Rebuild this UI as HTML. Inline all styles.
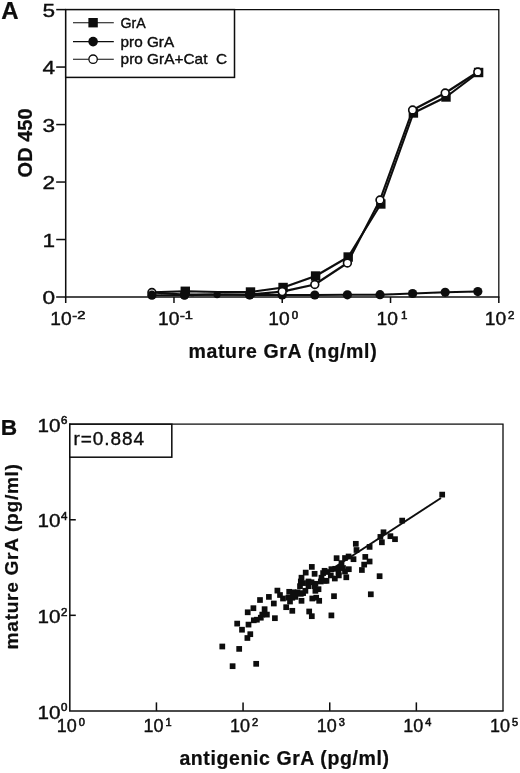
<!DOCTYPE html>
<html lang="en"><head><meta charset="utf-8"><title>Figure</title>
<style>
html,body{margin:0;padding:0;background:#fff;}
body{width:520px;height:773px;overflow:hidden;}
svg{display:block;font-family:"Liberation Sans", Arial, sans-serif;}
text{fill:#0a0a0a;stroke:#0a0a0a;stroke-width:0.35px;}
.b{font-weight:bold;stroke-width:0.2px;}
.s{stroke-width:0.55px;}
</style></head><body>
<svg width="520" height="773" viewBox="0 0 520 773">
<defs><filter id="soft" x="0" y="0" width="520" height="773" filterUnits="userSpaceOnUse"><feGaussianBlur stdDeviation="0.5"/></filter></defs>
<rect width="520" height="773" fill="#fff"/>
<g filter="url(#soft)">

<g fill="none" stroke="#0a0a0a" stroke-width="1.5">
<polyline points="65.7,9.6 498.8,9.6 498.8,297.0" stroke-width="1.25"/>
<polyline points="65.7,9.0 65.7,297.0 499.40000000000003,297.0"/>
<line x1="56.2" y1="297.00" x2="65.7" y2="297.00"/>
<line x1="56.2" y1="239.52" x2="65.7" y2="239.52"/>
<line x1="56.2" y1="182.04" x2="65.7" y2="182.04"/>
<line x1="56.2" y1="124.56" x2="65.7" y2="124.56"/>
<line x1="56.2" y1="67.08" x2="65.7" y2="67.08"/>
<line x1="56.2" y1="9.60" x2="65.7" y2="9.60"/>
<line x1="65.70" y1="297.0" x2="65.70" y2="303.0"/>
<line x1="173.98" y1="297.0" x2="173.98" y2="303.0"/>
<line x1="282.25" y1="297.0" x2="282.25" y2="303.0"/>
<line x1="390.53" y1="297.0" x2="390.53" y2="303.0"/>
<line x1="498.80" y1="297.0" x2="498.80" y2="303.0"/>
<rect x="65.7" y="9.6" width="168.8" height="67.80000000000001" fill="#fff"/>
</g>
<text x="42.6" y="304.30" font-size="19" textLength="12.6" lengthAdjust="spacingAndGlyphs">0</text>
<text x="42.6" y="246.82" font-size="19" textLength="12.6" lengthAdjust="spacingAndGlyphs">1</text>
<text x="42.6" y="189.34" font-size="19" textLength="12.6" lengthAdjust="spacingAndGlyphs">2</text>
<text x="42.6" y="131.86" font-size="19" textLength="12.6" lengthAdjust="spacingAndGlyphs">3</text>
<text x="42.6" y="74.38" font-size="19" textLength="12.6" lengthAdjust="spacingAndGlyphs">4</text>
<text x="42.6" y="16.90" font-size="19" textLength="12.6" lengthAdjust="spacingAndGlyphs">5</text>
<text x="50.30" y="325.30" font-size="18" textLength="21.4" lengthAdjust="spacingAndGlyphs">10</text>
<text class="s" x="72.30" y="318.70" font-size="11.5" textLength="13" lengthAdjust="spacingAndGlyphs">-2</text>
<text x="157.98" y="325.30" font-size="18" textLength="21.4" lengthAdjust="spacingAndGlyphs">10</text>
<text class="s" x="179.98" y="318.70" font-size="11.5" textLength="13" lengthAdjust="spacingAndGlyphs">-1</text>
<text x="268.25" y="325.30" font-size="18" textLength="21.4" lengthAdjust="spacingAndGlyphs">10</text>
<text class="s" x="291.65" y="318.70" font-size="11.5">0</text>
<text x="376.53" y="325.30" font-size="18" textLength="21.4" lengthAdjust="spacingAndGlyphs">10</text>
<text class="s" x="401.12" y="318.70" font-size="11.5">1</text>
<text x="484.80" y="325.30" font-size="18" textLength="21.4" lengthAdjust="spacingAndGlyphs">10</text>
<text class="s" x="508.00" y="318.70" font-size="11.5">2</text>
<text class="b" x="188.4" y="358" font-size="19.5" textLength="188.3" lengthAdjust="spacing">mature GrA (ng/ml)</text>
<text class="b" transform="translate(31.8,177.4) rotate(-90)" font-size="20" textLength="69" lengthAdjust="spacing">OD 450</text>
<text class="b" x="1.2" y="19.2" font-size="24">A</text>
<line x1="73" y1="22.7" x2="113.8" y2="22.7" stroke="#0a0a0a" stroke-width="1.1"/>
<rect x="88.4" y="18.0" width="9.4" height="9.4" fill="#0a0a0a"/>
<text x="120.6" y="28.2" font-size="14.2" textLength="25.2" lengthAdjust="spacingAndGlyphs">GrA</text>
<line x1="73" y1="41.6" x2="113.8" y2="41.6" stroke="#0a0a0a" stroke-width="1.1"/>
<circle cx="93.1" cy="41.6" r="4.8" fill="#0a0a0a"/>
<text x="120.6" y="47.4" font-size="14.2" textLength="53.5" lengthAdjust="spacingAndGlyphs">pro GrA</text>
<line x1="73" y1="59.2" x2="113.8" y2="59.2" stroke="#0a0a0a" stroke-width="1.1"/>
<circle cx="93.1" cy="59.2" r="4.2" fill="#fff" stroke="#0a0a0a" stroke-width="1.3"/>
<text x="120.6" y="64.2" font-size="14.2" textLength="106.5" lengthAdjust="spacingAndGlyphs">pro GrA+Cat  C</text>
<polyline points="151.9,295.2 184.5,295.2 217.1,294.6 249.7,295 282.2,295 314.8,295 347.4,294.8 380.0,294.7 412.6,293.5 445.2,292.3 477.8,291.6" fill="none" stroke="#0a0a0a" stroke-width="2.0" stroke-linejoin="round"/>
<polyline points="152.7,292.3 185.3,291.3 217.9,292 250.5,292 283.1,287.5 315.6,276 348.2,257 380.8,204 413.4,113 446.0,97 478.6,72.5" fill="none" stroke="#0a0a0a" stroke-width="2.1" stroke-linejoin="round"/>
<polyline points="151.9,292.5 184.5,294.6 217.1,294.6 249.7,294.6 282.2,291.6 314.8,284.5 347.4,263 380.0,200 412.6,110 445.2,93 477.8,72" fill="none" stroke="#0a0a0a" stroke-width="2.1" stroke-linejoin="round"/>
<rect x="180.6" y="286.6" width="9.4" height="9.4" fill="#0a0a0a"/>
<rect x="245.8" y="287.3" width="9.4" height="9.4" fill="#0a0a0a"/>
<rect x="278.4" y="282.8" width="9.4" height="9.4" fill="#0a0a0a"/>
<rect x="310.9" y="271.3" width="9.4" height="9.4" fill="#0a0a0a"/>
<rect x="343.5" y="252.3" width="9.4" height="9.4" fill="#0a0a0a"/>
<rect x="376.1" y="199.3" width="9.4" height="9.4" fill="#0a0a0a"/>
<rect x="408.7" y="108.3" width="9.4" height="9.4" fill="#0a0a0a"/>
<rect x="441.3" y="92.3" width="9.4" height="9.4" fill="#0a0a0a"/>
<rect x="473.9" y="67.8" width="9.4" height="9.4" fill="#0a0a0a"/>
<circle cx="282.2" cy="295" r="4.6" fill="#0a0a0a"/>
<circle cx="314.8" cy="295" r="4.6" fill="#0a0a0a"/>
<circle cx="347.4" cy="294.8" r="4.6" fill="#0a0a0a"/>
<circle cx="380.0" cy="294.7" r="4.6" fill="#0a0a0a"/>
<circle cx="412.6" cy="293.5" r="4.6" fill="#0a0a0a"/>
<circle cx="445.2" cy="292.3" r="4.6" fill="#0a0a0a"/>
<circle cx="477.8" cy="291.6" r="4.6" fill="#0a0a0a"/>
<circle cx="151.9" cy="292.5" r="3.9" fill="#fff" stroke="#0a0a0a" stroke-width="1.6"/>
<circle cx="184.5" cy="294.6" r="3.9" fill="#fff" stroke="#0a0a0a" stroke-width="1.6"/>
<circle cx="249.7" cy="294.6" r="3.9" fill="#fff" stroke="#0a0a0a" stroke-width="1.6"/>
<circle cx="282.2" cy="291.6" r="3.9" fill="#fff" stroke="#0a0a0a" stroke-width="1.6"/>
<circle cx="314.8" cy="284.5" r="3.9" fill="#fff" stroke="#0a0a0a" stroke-width="1.6"/>
<circle cx="347.4" cy="263" r="3.9" fill="#fff" stroke="#0a0a0a" stroke-width="1.6"/>
<circle cx="380.0" cy="200" r="3.9" fill="#fff" stroke="#0a0a0a" stroke-width="1.6"/>
<circle cx="412.6" cy="110" r="3.9" fill="#fff" stroke="#0a0a0a" stroke-width="1.6"/>
<circle cx="445.2" cy="93" r="3.9" fill="#fff" stroke="#0a0a0a" stroke-width="1.6"/>
<circle cx="477.8" cy="72" r="3.9" fill="#fff" stroke="#0a0a0a" stroke-width="1.6"/>
<circle cx="151.9" cy="295.2" r="4.6" fill="#0a0a0a"/>
<circle cx="184.5" cy="295.2" r="4.6" fill="#0a0a0a"/>
<circle cx="217.1" cy="294.6" r="3.6" fill="#0a0a0a"/>
<circle cx="249.7" cy="295" r="4.6" fill="#0a0a0a"/>
<g fill="none" stroke="#0a0a0a" stroke-width="1.5">
<polyline points="69.8,424.2 503.0,424.2 503.0,710.9" stroke-width="1.25"/>
<polyline points="69.8,423.59999999999997 69.8,710.9 503.6,710.9"/>
<line x1="156.44" y1="710.9" x2="156.44" y2="702.4"/>
<line x1="243.08" y1="710.9" x2="243.08" y2="702.4"/>
<line x1="329.72" y1="710.9" x2="329.72" y2="702.4"/>
<line x1="416.36" y1="710.9" x2="416.36" y2="702.4"/>
<line x1="69.8" y1="615.33" x2="75.8" y2="615.33"/>
<line x1="69.8" y1="519.77" x2="75.8" y2="519.77"/>
<rect x="69.8" y="424.2" width="102.00000000000001" height="33.0" fill="#fff"/>
</g>
<text x="56.80" y="732.40" font-size="17.6" textLength="20.0" lengthAdjust="spacingAndGlyphs">10</text>
<text class="s" x="78.80" y="725.60" font-size="11">0</text>
<text x="143.44" y="732.40" font-size="17.6" textLength="20.0" lengthAdjust="spacingAndGlyphs">10</text>
<text class="s" x="165.44" y="725.60" font-size="11">1</text>
<text x="230.08" y="732.40" font-size="17.6" textLength="20.0" lengthAdjust="spacingAndGlyphs">10</text>
<text class="s" x="252.08" y="725.60" font-size="11">2</text>
<text x="316.72" y="732.40" font-size="17.6" textLength="20.0" lengthAdjust="spacingAndGlyphs">10</text>
<text class="s" x="338.72" y="725.60" font-size="11">3</text>
<text x="403.36" y="732.40" font-size="17.6" textLength="20.0" lengthAdjust="spacingAndGlyphs">10</text>
<text class="s" x="425.36" y="725.60" font-size="11">4</text>
<text x="490.00" y="732.40" font-size="17.6" textLength="20.0" lengthAdjust="spacingAndGlyphs">10</text>
<text class="s" x="512.00" y="725.60" font-size="11">5</text>
<text x="37.60" y="718.50" font-size="19" textLength="23.0" lengthAdjust="spacingAndGlyphs">10</text>
<text class="s" x="61.00" y="711.10" font-size="11.5">0</text>
<text x="37.60" y="622.93" font-size="19" textLength="23.0" lengthAdjust="spacingAndGlyphs">10</text>
<text class="s" x="61.00" y="615.53" font-size="11.5">2</text>
<text x="37.60" y="527.37" font-size="19" textLength="23.0" lengthAdjust="spacingAndGlyphs">10</text>
<text class="s" x="61.00" y="519.97" font-size="11.5">4</text>
<text x="37.60" y="431.80" font-size="19" textLength="23.0" lengthAdjust="spacingAndGlyphs">10</text>
<text class="s" x="61.00" y="424.40" font-size="11.5">6</text>
<text x="73.4" y="444.6" font-size="19" textLength="70.6" lengthAdjust="spacing">r=0.884</text>
<text class="b" x="0.8" y="435" font-size="22" textLength="16.4" lengthAdjust="spacingAndGlyphs">B</text>
<text class="b" x="179.4" y="765.4" font-size="19.5" textLength="209.5" lengthAdjust="spacing">antigenic GrA (pg/ml)</text>
<text class="b" transform="translate(18.4,649.4) rotate(-90)" font-size="19.2" textLength="185.4" lengthAdjust="spacing">mature GrA (pg/ml)</text>
<line x1="322" y1="575.5" x2="441" y2="498" stroke="#0a0a0a" stroke-width="1.9"/>
<rect x="219.45" y="643.65" width="5.7" height="5.7" fill="#0a0a0a"/>
<rect x="236.35" y="646.05" width="5.7" height="5.7" fill="#0a0a0a"/>
<rect x="229.75" y="663.35" width="5.7" height="5.7" fill="#0a0a0a"/>
<rect x="253.35" y="660.95" width="5.7" height="5.7" fill="#0a0a0a"/>
<rect x="234.35" y="620.75" width="5.7" height="5.7" fill="#0a0a0a"/>
<rect x="239.15" y="626.85" width="5.7" height="5.7" fill="#0a0a0a"/>
<rect x="247.45" y="631.35" width="5.7" height="5.7" fill="#0a0a0a"/>
<rect x="244.55" y="635.15" width="5.7" height="5.7" fill="#0a0a0a"/>
<rect x="245.65" y="621.75" width="5.7" height="5.7" fill="#0a0a0a"/>
<rect x="244.85" y="609.45" width="5.7" height="5.7" fill="#0a0a0a"/>
<rect x="250.55" y="605.35" width="5.7" height="5.7" fill="#0a0a0a"/>
<rect x="250.95" y="617.45" width="5.7" height="5.7" fill="#0a0a0a"/>
<rect x="254.05" y="616.85" width="5.7" height="5.7" fill="#0a0a0a"/>
<rect x="257.95" y="614.85" width="5.7" height="5.7" fill="#0a0a0a"/>
<rect x="259.45" y="611.75" width="5.7" height="5.7" fill="#0a0a0a"/>
<rect x="264.05" y="611.75" width="5.7" height="5.7" fill="#0a0a0a"/>
<rect x="261.75" y="606.35" width="5.7" height="5.7" fill="#0a0a0a"/>
<rect x="257.15" y="597.15" width="5.7" height="5.7" fill="#0a0a0a"/>
<rect x="266.05" y="594.05" width="5.7" height="5.7" fill="#0a0a0a"/>
<rect x="272.05" y="615.35" width="5.7" height="5.7" fill="#0a0a0a"/>
<rect x="270.95" y="600.65" width="5.7" height="5.7" fill="#0a0a0a"/>
<rect x="274.55" y="587.75" width="5.7" height="5.7" fill="#0a0a0a"/>
<rect x="277.15" y="592.15" width="5.7" height="5.7" fill="#0a0a0a"/>
<rect x="280.15" y="595.65" width="5.7" height="5.7" fill="#0a0a0a"/>
<rect x="283.35" y="604.35" width="5.7" height="5.7" fill="#0a0a0a"/>
<rect x="289.45" y="607.95" width="5.7" height="5.7" fill="#0a0a0a"/>
<rect x="287.15" y="598.65" width="5.7" height="5.7" fill="#0a0a0a"/>
<rect x="286.35" y="588.95" width="5.7" height="5.7" fill="#0a0a0a"/>
<rect x="290.25" y="589.45" width="5.7" height="5.7" fill="#0a0a0a"/>
<rect x="289.45" y="594.85" width="5.7" height="5.7" fill="#0a0a0a"/>
<rect x="297.95" y="590.95" width="5.7" height="5.7" fill="#0a0a0a"/>
<rect x="298.65" y="597.95" width="5.7" height="5.7" fill="#0a0a0a"/>
<rect x="300.25" y="590.25" width="5.7" height="5.7" fill="#0a0a0a"/>
<rect x="297.15" y="583.35" width="5.7" height="5.7" fill="#0a0a0a"/>
<rect x="298.65" y="574.85" width="5.7" height="5.7" fill="#0a0a0a"/>
<rect x="297.95" y="578.65" width="5.7" height="5.7" fill="#0a0a0a"/>
<rect x="302.85" y="569.75" width="5.7" height="5.7" fill="#0a0a0a"/>
<rect x="308.95" y="564.05" width="5.7" height="5.7" fill="#0a0a0a"/>
<rect x="311.75" y="570.95" width="5.7" height="5.7" fill="#0a0a0a"/>
<rect x="305.65" y="578.65" width="5.7" height="5.7" fill="#0a0a0a"/>
<rect x="308.65" y="579.45" width="5.7" height="5.7" fill="#0a0a0a"/>
<rect x="312.55" y="580.95" width="5.7" height="5.7" fill="#0a0a0a"/>
<rect x="315.65" y="586.35" width="5.7" height="5.7" fill="#0a0a0a"/>
<rect x="312.55" y="587.95" width="5.7" height="5.7" fill="#0a0a0a"/>
<rect x="309.45" y="595.65" width="5.7" height="5.7" fill="#0a0a0a"/>
<rect x="316.35" y="597.95" width="5.7" height="5.7" fill="#0a0a0a"/>
<rect x="313.35" y="594.85" width="5.7" height="5.7" fill="#0a0a0a"/>
<rect x="306.35" y="608.65" width="5.7" height="5.7" fill="#0a0a0a"/>
<rect x="308.95" y="613.35" width="5.7" height="5.7" fill="#0a0a0a"/>
<rect x="328.55" y="612.55" width="5.7" height="5.7" fill="#0a0a0a"/>
<rect x="331.15" y="593.35" width="5.7" height="5.7" fill="#0a0a0a"/>
<rect x="321.75" y="577.95" width="5.7" height="5.7" fill="#0a0a0a"/>
<rect x="318.65" y="574.85" width="5.7" height="5.7" fill="#0a0a0a"/>
<rect x="321.75" y="567.95" width="5.7" height="5.7" fill="#0a0a0a"/>
<rect x="324.65" y="569.15" width="5.7" height="5.7" fill="#0a0a0a"/>
<rect x="328.55" y="566.35" width="5.7" height="5.7" fill="#0a0a0a"/>
<rect x="332.35" y="565.95" width="5.7" height="5.7" fill="#0a0a0a"/>
<rect x="331.95" y="575.65" width="5.7" height="5.7" fill="#0a0a0a"/>
<rect x="333.75" y="555.35" width="5.7" height="5.7" fill="#0a0a0a"/>
<rect x="338.65" y="560.25" width="5.7" height="5.7" fill="#0a0a0a"/>
<rect x="342.15" y="555.15" width="5.7" height="5.7" fill="#0a0a0a"/>
<rect x="340.15" y="565.15" width="5.7" height="5.7" fill="#0a0a0a"/>
<rect x="343.45" y="574.45" width="5.7" height="5.7" fill="#0a0a0a"/>
<rect x="345.75" y="553.65" width="5.7" height="5.7" fill="#0a0a0a"/>
<rect x="367.95" y="591.45" width="5.7" height="5.7" fill="#0a0a0a"/>
<rect x="376.75" y="573.35" width="5.7" height="5.7" fill="#0a0a0a"/>
<rect x="323.65" y="577.95" width="5.7" height="5.7" fill="#0a0a0a"/>
<rect x="335.95" y="572.55" width="5.7" height="5.7" fill="#0a0a0a"/>
<rect x="342.15" y="568.65" width="5.7" height="5.7" fill="#0a0a0a"/>
<rect x="345.95" y="566.35" width="5.7" height="5.7" fill="#0a0a0a"/>
<rect x="350.65" y="556.35" width="5.7" height="5.7" fill="#0a0a0a"/>
<rect x="352.95" y="540.95" width="5.7" height="5.7" fill="#0a0a0a"/>
<rect x="353.65" y="547.15" width="5.7" height="5.7" fill="#0a0a0a"/>
<rect x="359.05" y="567.15" width="5.7" height="5.7" fill="#0a0a0a"/>
<rect x="361.35" y="561.75" width="5.7" height="5.7" fill="#0a0a0a"/>
<rect x="362.45" y="554.05" width="5.7" height="5.7" fill="#0a0a0a"/>
<rect x="366.75" y="558.65" width="5.7" height="5.7" fill="#0a0a0a"/>
<rect x="366.75" y="544.05" width="5.7" height="5.7" fill="#0a0a0a"/>
<rect x="379.05" y="539.45" width="5.7" height="5.7" fill="#0a0a0a"/>
<rect x="377.55" y="534.05" width="5.7" height="5.7" fill="#0a0a0a"/>
<rect x="380.65" y="529.45" width="5.7" height="5.7" fill="#0a0a0a"/>
<rect x="387.55" y="533.35" width="5.7" height="5.7" fill="#0a0a0a"/>
<rect x="392.15" y="536.35" width="5.7" height="5.7" fill="#0a0a0a"/>
<rect x="399.35" y="517.75" width="5.7" height="5.7" fill="#0a0a0a"/>
<rect x="439.35" y="491.75" width="5.7" height="5.7" fill="#0a0a0a"/>
<rect x="300.25" y="580.25" width="5.7" height="5.7" fill="#0a0a0a"/>
<rect x="305.65" y="583.35" width="5.7" height="5.7" fill="#0a0a0a"/>
<rect x="311.75" y="583.35" width="5.7" height="5.7" fill="#0a0a0a"/>
<rect x="292.55" y="594.05" width="5.7" height="5.7" fill="#0a0a0a"/>
<rect x="285.65" y="594.85" width="5.7" height="5.7" fill="#0a0a0a"/>
<rect x="294.85" y="589.45" width="5.7" height="5.7" fill="#0a0a0a"/>
<rect x="302.55" y="587.95" width="5.7" height="5.7" fill="#0a0a0a"/>
<rect x="320.25" y="570.25" width="5.7" height="5.7" fill="#0a0a0a"/>
<rect x="327.95" y="572.55" width="5.7" height="5.7" fill="#0a0a0a"/>
<rect x="335.65" y="569.45" width="5.7" height="5.7" fill="#0a0a0a"/>
<rect x="337.95" y="564.85" width="5.7" height="5.7" fill="#0a0a0a"/>
<rect x="317.95" y="578.65" width="5.7" height="5.7" fill="#0a0a0a"/>
</g></svg></body></html>
